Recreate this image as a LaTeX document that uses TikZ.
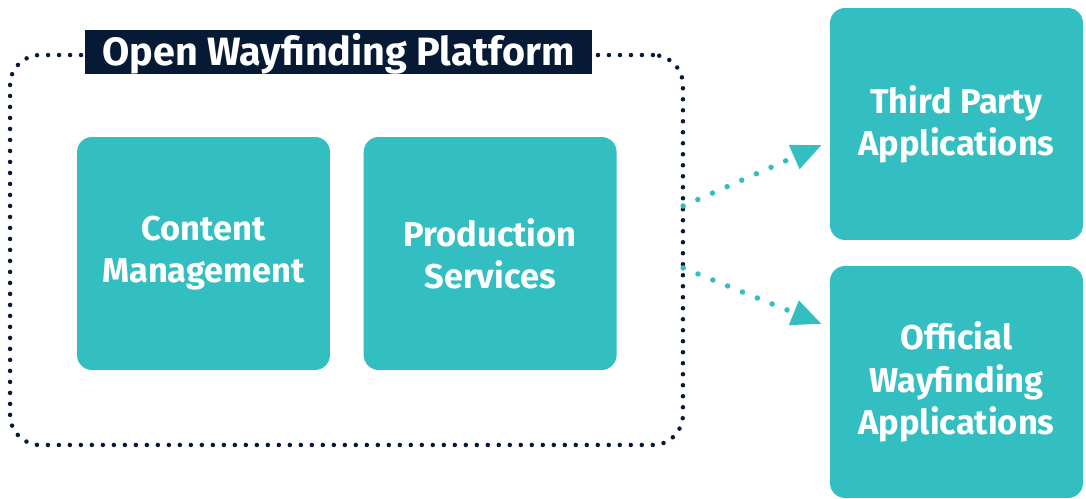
\documentclass[tikz,border=0pt]{standalone}
\usepackage{fontspec}
\setmainfont{Fira Sans}
\usetikzlibrary{positioning, arrows.meta, calc}
\definecolor{wfteal}{HTML}{33BEC1}
\definecolor{wfnavy}{HTML}{061A36}
\tikzset{
  appbox/.style={fill=wfteal, rounded corners=0.3cm, minimum width=5.06cm,
    minimum height=4.66cm, align=center, text=white,
    font=\fontsize{19.6}{24}\selectfont\bfseries},
  platformframe/.style={draw=wfnavy, line width=0.09cm, line cap=round,
    dash pattern=on 0pt off 0.22cm, rounded corners=0.6cm,
    minimum width=13.46cm, minimum height=7.8cm, inner sep=0pt},
  titlebox/.style={fill=wfnavy, text=white, minimum width=10.14cm,
    text height=0.72cm, text depth=0.16cm, inner sep=0pt,
    font=\fontsize{22.5}{26}\selectfont\bfseries},
  feedarrow/.style={draw=wfteal, line width=0.11cm, line cap=round,
    dash pattern=on 0pt off 0.32cm,
    -{Triangle[length=0.6cm, width=0.5cm, fill=wfteal]}}
}
\begin{document}
\begin{tikzpicture}[x=0.02cm, y=-0.02cm]
  \useasboundingbox (0,0) rectangle (1086,499);

  % platform frame and its title
  \node[platformframe] (platform) at (346.5,250) {};
  \node[titlebox] (title) at (338.5,52) {Open Wayfinding Platform};

  % inner services
  \node[appbox] (content) at (203.5,253.5) {Content\\Management};
  \node[appbox, right=0.66cm of content] (production) {Production\\Services};

  % applications
  \node[appbox, minimum height=4.64cm] (thirdparty) at (956.5,124) {Third Party\\Applications};
  \node[appbox, minimum height=4.64cm] (official) at (956.5,382) {Official\\Wayfinding\\Applications};

  % feeds
  \draw[feedarrow] ($(platform.east)+(-2,-44)$) -- ($(thirdparty.west)+(-8,21)$);
  \draw[feedarrow] ($(platform.east)+(-2,18)$) -- ($(official.west)+(-8,-58)$);
\end{tikzpicture}
\end{document}
